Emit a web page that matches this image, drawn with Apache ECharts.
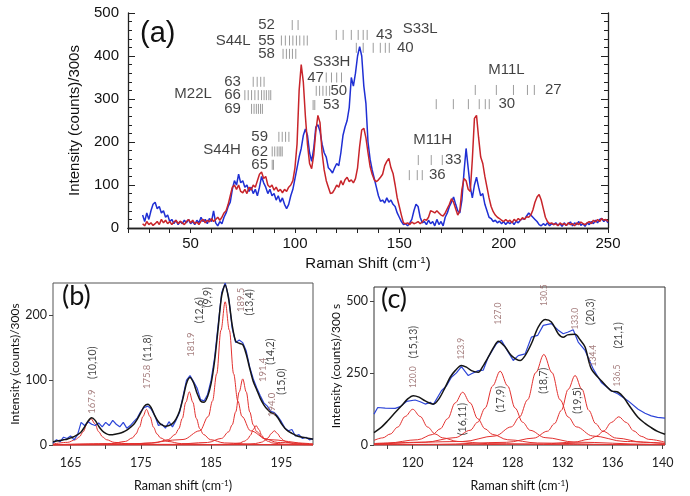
<!DOCTYPE html>
<html>
<head>
<meta charset="utf-8">
<script src="https://cdn.jsdelivr.net/npm/echarts@6/dist/echarts.min.js"></script>
<style>html,body{margin:0;padding:0;background:#fff}#chart{width:690px;height:496px}</style>
</head>
<body>
<div id="chart"></div>
<script>
const FA = "'Liberation Sans', Arial, sans-serif";
const FB = "Lato, 'Open Sans', sans-serif";

// ---- panel (a): spectra, 1 cm-1 steps from 27 to 250
const shiftA = [];
for (let x = 27; x <= 250; x++) shiftA.push(x);
const blueA = [
  30, 15, 35, 20, 40, 55, 60, 45, 50, 35,
  40, 25, 30, 15, 20, 10, 18, 8, 15, 10,
  18, 12, 20, 10, 15, 8, 18, 12, 25, 15,
  20, 10, 22, 15, 40, 12, 5, 15, 10, 25,
  35, 50, 60, 90, 110, 100, 125, 105, 110, 95,
  100, 85, 95, 80, 90, 75, 95, 120, 105, 95,
  80, 90, 75, 80, 65, 75, 60, 70, 55, 45,
  55, 75, 90, 115, 140, 165, 185, 215, 230, 215,
  175, 155, 185, 235, 240, 225, 195, 175, 165, 140,
  135, 128, 140, 150, 145, 175, 215, 235, 250, 280,
  350, 330, 360, 400, 422, 400, 330, 290, 200, 160,
  135, 115, 95, 75, 62, 65, 58, 70, 60, 65,
  55, 50, 35, 25, 15, 8, 10, 5, 12, 20,
  40, 55, 50, 25, 12, 15, 8, 18, 10, 15,
  5, 20, 8, 15, 5, 25, 35, 50, 60, 72,
  55, 40, 35, 65, 130, 185, 140, 95, 70, 100,
  118, 95, 75, 80, 55, 40, 25, 22, 15, 18,
  12, 16, 10, 15, 8, 14, 10, 15, 8, 16,
  12, 18, 22, 20, 28, 35, 30, 25, 20, 15,
  8, 5, 10, 6, 12, 5, 10, 8, 12, 6,
  10, 4, 12, 6, 10, 14, 5, 12, 8, 15,
  6, 10, 4, 12, 8, 15, 10, 18, 12, 20,
  22, 15, 20, 12
];
const redA = [
  10, 5, 15, 8, 12, 6, 10, 15, 8, 20,
  12, 18, 10, 15, 8, 14, 18, 10, 16, 12,
  8, 15, 20, 12, 18, 10, 14, 8, 16, 20,
  12, 18, 14, 22, 15, 20, 25, 18, 25, 35,
  40, 55, 75, 95, 100, 90, 100, 85, 82, 90,
  80, 95, 88, 100, 95, 110, 125, 130, 115, 120,
  100, 95, 100, 88, 95, 85, 90, 82, 90, 85,
  95, 100, 110, 140, 195, 320, 380, 340, 260, 195,
  150, 138, 170, 225, 262, 245, 175, 135, 110, 95,
  80, 82, 90, 100, 95, 110, 100, 112, 118, 108,
  112, 105, 115, 140, 190, 228, 232, 210, 175, 143,
  125, 112, 108, 112, 118, 125, 145, 155, 162, 140,
  127, 100, 70, 50, 30, 12, 10, 12, 8, 14,
  10, 12, 15, 10, 14, 20, 18, 25, 40, 38,
  35, 40, 35, 30, 28, 35, 45, 55, 68, 60,
  45, 30, 40, 90, 115, 110, 90, 85, 160, 255,
  262, 210, 165, 150, 120, 95, 70, 50, 38, 30,
  25, 22, 18, 15, 20, 15, 18, 12, 20, 16,
  22, 18, 24, 20, 26, 25, 30, 42, 60, 72,
  78, 65, 45, 25, 15, 10, 12, 8, 10, 5,
  12, 8, 10, 6, 12, 8, 10, 5, 12, 8,
  14, 10, 8, 12, 15, 10, 18, 14, 20, 15,
  22, 18, 20, 15
];
// gray chirality marks: [row intensity, shifts]
const markRowsA = [
  [472, [98.7, 101.5]],
  [436, [93.5, 95.4, 97.4, 99, 100.7, 102.3, 104.3, 105.9]],
  [405, [94.3, 95.9, 97.4, 98.8, 100.4]],
  [340, [80, 81.9, 83.6, 85.2]],
  [309, [76, 77.6, 79.2, 80.8, 82.4, 84, 85.2, 86.3, 87.5, 88.4]],
  [277, [79.2, 80.4, 81.5, 82.5, 83.5, 84.4]],
  [212, [92.3, 93.9, 95.5, 97.1]],
  [178, [89.1, 90.3, 91.5, 92.4, 93.2, 93.9]],
  [147, [89.1, 89.7]],
  [350, [115, 117.5, 120, 122.3]],
  [319, [110.2, 111.8, 113.4, 115, 116.6]],
  [286, [108.7, 109.5]],
  [449, [119.8, 123.1, 127, 130.3, 132.7, 134.6]],
  [419, [129.4, 132.7, 137.5, 140.9, 143.3, 145.2]],
  [321, [186.4, 196.5, 204.7, 211.4, 214.7]],
  [288, [167.7, 175.9, 183.1, 188.3, 191.2, 193.1]],
  [158, [159.1, 165.3, 170.6]],
  [123, [154.8, 158.6, 161]]
];
const labelsA = [
  ['52', 86.4, 472], ['55', 86.4, 436], ['58', 86.4, 405], ['S44L', 70.4, 436],
  ['63', 70.1, 340], ['66', 70.1, 309], ['69', 70.1, 277], ['M22L', 51.2, 312],
  ['59', 83.1, 212], ['62', 83.1, 178], ['65', 83.1, 147], ['S44H', 65.1, 181],
  ['S33H', 117.6, 386], ['47', 109.9, 350], ['50', 121, 319], ['53', 117.4, 286],
  ['43', 142.8, 449], ['40', 152.9, 419], ['S33L', 160, 463],
  ['M11L', 201.3, 367], ['27', 223.8, 321], ['30', 201.5, 288],
  ['M11H', 166, 205], ['33', 175.9, 158], ['36', 168.2, 123]
];

// ---- panel (b): 0.5 cm-1 steps from 162.5 to 199.5
const shiftB = [];
for (let i = 0; i <= 74; i++) shiftB.push(162.5 + i * 0.5);
const blueB = [
  3, 8, 5, 12, 10, 14, 8, 16, 35, 30,
  36, 32, 30, 34, 28, 35, 30, 38, 32, 28,
  35, 26, 30, 36, 42, 52, 58, 60, 55, 45,
  30, 32, 26, 36, 28, 38, 50, 75, 100, 107,
  98, 88, 70, 68, 78, 100, 135, 185, 235, 250,
  228, 180, 158, 162, 158, 145, 120, 102, 88, 76,
  65, 60, 52, 50, 44, 36, 26, 22, 24, 14,
  16, 10, 12, 8, 10
];
const fitB = [
  5, 6, 7, 8, 9, 11, 13, 16, 20, 28,
  37, 42, 38, 29, 22, 18, 16, 16, 17, 18,
  20, 23, 27, 32, 40, 50, 60, 63, 57, 45,
  36, 31, 29, 30, 33, 40, 52, 72, 95, 104,
  96, 80, 68, 66, 75, 95, 130, 180, 230, 247,
  225, 185, 160, 157, 155, 140, 118, 98, 85, 72,
  62, 55, 50, 48, 42, 33, 26, 21, 18, 15,
  13, 12, 11, 10, 9
];
const peaksB = [
  [[162.5,1.6],[164.6,4.1],[165.7,8.2],[166.25,12.6],[166.8,20.5],[167.35,33],[167.9,41],[168.45,33],[169,20.5],[169.55,12.6],[170.1,8.2],[171.2,4.1],[173.4,1.6],[178.9,0.4],[199.5,0.1]],
  [[162.5,0.3],[170.8,2.1],[172.8,5.5],[173.8,11],[174.3,17],[174.8,27.5],[175.3,44],[175.8,55],[176.3,44],[176.8,27.5],[177.3,17],[177.8,11],[178.8,5.5],[180.8,2.1],[185.8,0.5],[199.5,0.1]],
  [[162.5,0.2],[171.9,0.8],[176.9,3.2],[178.9,8.2],[179.9,16.4],[180.4,25],[180.9,41],[181.4,66],[181.9,82],[182.4,66],[182.9,41],[183.4,25],[183.9,16.4],[184.9,8.2],[186.9,3.2],[191.9,0.8],[199.5,0.3]],
  [[162.5,0.5],[175,2.2],[181,8.5],[183.4,22],[184.6,44],[185.2,68],[185.8,110],[186.4,177],[187,221],[187.6,177],[188.2,110],[188.8,68],[189.4,44],[190.6,22],[193,8.5],[199,2.2],[199.5,2.1]],
  [[162.5,0.1],[179.5,1],[184.5,3.9],[186.5,10.2],[187.5,20.4],[188,31],[188.5,51],[189,82],[189.5,102],[190,82],[190.5,51],[191,31],[191.5,20.4],[192.5,10.2],[194.5,3.9],[199.5,1]],
  [[162.5,0.1],[183.4,0.3],[187.4,1.2],[189,3],[189.8,6],[190.2,9.2],[190.6,15],[191,24],[191.4,30],[191.8,24],[192.2,15],[192.6,9.2],[193,6],[193.8,3],[195.4,1.2],[199.5,0.3]],
  [[162.5,0.1],[185,0.2],[189.5,0.85],[191.3,2.2],[192.2,4.4],[192.65,6.8],[193.1,11],[193.55,17.6],[194,22],[194.45,17.6],[194.9,11],[195.35,6.8],[195.8,4.4],[196.7,2.2],[198.5,0.85],[199.5,0.6]]
];
const peakTextB = [['167.9', 168.1, 67], ['175.8', 175.8, 105], ['181.9', 182.1, 155],
  ['189.5', 189.3, 224], ['191.4', 192.4, 116], ['194.0', 193.7, 62]];
const chiralTextB = [['(10,10)', 168.1, 127], ['(11,8)', 175.9, 150], ['(12,6)', 183.3, 208],
  ['(9,9)', 184.5, 228], ['(13,4)', 190.5, 220], ['(14,2)', 193.4, 144], ['(15,0)', 195.1, 98]];

// ---- panel (c)
const blueC = [[116.9,107],[117.2,130],[117.8,128],[118.6,127],[119.0,133],[119.5,151],[120.2,156],[120.6,150],[121,142],[121.4,148],[121.65,140],[122.3,188],[122.7,205],[123.1,235],[123.5,250],[123.9,272],[124.45,241],[124.7,247],[125.25,258],[125.65,260],[126.05,305],[126.7,351],[127.1,363],[127.65,322],[128.05,293],[128.45,310],[129,316],[129.5,374],[130,380],[130.45,415],[131.1,421],[131.65,398],[132.05,386],[132.45,392],[132.85,400],[133.25,357],[133.8,328],[134.45,264],[135.1,217],[135.9,188],[136.45,177],[137.25,153],[138.05,124],[138.6,110],[139.1,101],[139.6,96],[140.2,93]];
const fitC = [[116.9,43],[117.5,62],[118,84],[118.5,108],[119.1,136],[119.6,160],[120.05,171],[120.5,166],[121,153],[121.65,142],[122.1,160],[122.6,200],[123,235],[123.4,258],[123.9,276],[124.3,270],[124.7,258],[125.25,252],[125.6,272],[126.05,305],[126.5,340],[126.85,360],[127.4,340],[127.9,310],[128.6,293],[129,310],[129.5,351],[130.05,409],[130.6,435],[131.1,427],[131.65,386],[132.05,374],[132.4,382],[133,384],[133.4,365],[133.8,340],[134.3,264],[135.1,223],[135.9,188],[136.45,183],[136.9,165],[137.25,142],[138.05,95],[138.6,75],[139.1,60],[139.6,47],[140.2,37]];
const peaksC = [
  [[116.9,16],[117.6,24.8],[118.2,38],[118.8,62],[119.4,99],[120,124],[120.6,99],[121.2,62],[121.8,38],[122.4,24.8],[123.6,12.4],[126,4.8],[132,1.2],[140.2,0.5]],
  [[116.9,5.1],[118,7],[120.4,18.3],[121.6,36.6],[122.2,56],[122.8,91.5],[123.4,146],[124,183],[124.6,146],[125.2,91.5],[125.8,56],[126.4,36.6],[127.6,18.3],[130,7],[136,1.8],[140.2,1]],
  [[116.9,3.6],[121,9.9],[123.4,25.6],[124.6,51],[125.2,79],[125.8,128],[126.4,205],[127,256],[127.6,205],[128.2,128],[128.8,79],[129.4,51],[130.6,25.6],[133,9.9],[139,2.5],[140.2,2.1]],
  [[116.9,2.9],[124,12.1],[126.6,31.4],[127.9,63],[128.55,97],[129.2,157],[129.85,251],[130.5,314],[131.15,251],[131.8,157],[132.45,97],[133.1,63],[134.4,31.4],[137,12.1],[140.2,5.5]],
  [[116.9,1.1],[122,2.4],[127.5,9.3],[129.7,24],[130.8,48],[131.35,74],[131.9,120],[132.45,193],[133,241],[133.55,193],[134.1,120],[134.65,74],[135.2,48],[136.3,24],[138.5,9.3],[140.2,5.5]],
  [[116.9,0.4],[124.5,1],[130.5,3.8],[132.9,9.8],[134.1,19.6],[134.7,30],[135.3,49],[135.9,78],[136.5,98],[137.1,78],[137.7,49],[138.3,30],[138.9,19.6],[140.2,9.6]]
];
const peakTextC = [['120.0', 120.05, 235], ['123.9', 123.9, 334], ['127.0', 126.85, 456], ['130.5', 130.5, 520],
  ['133.0', 133.05, 438], ['134.4', 134.45, 310], ['136.5', 136.4, 241]];
const chiralTextC = [['(15,13)', 120.1, 357], ['(16,11)', 124, 90], ['(17,9)', 127, 159], ['(18,7)', 130.5, 223],
  ['(19,5)', 133.2, 154], ['(20,3)', 134.25, 462], ['(21,1)', 136.45, 380]];

const ticksA = [];
for (let x = 20; x <= 250; x += 10) ticksA.push(x);

const chart = echarts.init(document.getElementById('chart'));

const pairs = (xs, ys) => xs.map((x, i) => [x, ys[i]]);
const markData = [];
markRowsA.forEach(([y, xs]) => xs.forEach(x => markData.push([x, y])));

// axis index: 0 = panel a, 2 = panel b, 3 = panel c
const textSeries = (items, ai, style) => ({
  type: 'scatter', xAxisIndex: ai, yAxisIndex: ai, silent: true, symbolSize: 1,
  itemStyle: { color: 'rgba(0,0,0,0)' }, z: 6,
  data: items.map(t => ({ name: t[0], value: [t[1], t[2]] })),
  label: Object.assign({ show: true, position: 'inside', formatter: '{b}' }, style)
});
const lineS = (data, ai, color, width, z) => ({
  type: 'line', xAxisIndex: ai, yAxisIndex: ai, data, symbol: 'none', silent: true,
  lineStyle: { color, width }, z: z || 2
});
const smoothS = (data, ai) => Object.assign(lineS(data, ai, '#e2312f', 1, 2), { smooth: 0.35, smoothMonotone: 'x' });

const axisDark = { color: '#222', width: 1.3 };
const nameRich = (size, font) => ({ fontFamily: font, fontSize: size, color: '#111',
  rich: { sup: { fontFamily: font, fontSize: size * 0.65, color: '#111', padding: [0, 0, size * 0.55, 0] } } });

const series = [
  {
    type: 'custom', xAxisIndex: 0, yAxisIndex: 0, data: markData, silent: true, z: 3,
    renderItem: (params, api) => {
      const p = api.coord([api.value(0), api.value(1)]);
      return { type: 'line', shape: { x1: p[0], y1: p[1] - 5, x2: p[0], y2: p[1] + 5 },
        style: { stroke: '#9c9c9c', lineWidth: 1 } };
    }
  },
  lineS(pairs(shiftA, blueA), 0, '#1f2fd4', 1.5),
  lineS(pairs(shiftA, redA), 0, '#c8242a', 1.5),
  textSeries(labelsA, 0, { fontFamily: FA, fontSize: 15, color: '#111' })
];
peaksB.forEach(p => series.push(smoothS(p, 2)));
series.push(lineS(pairs(shiftB, blueB), 2, '#2d45d8', 1.2, 3));
series.push(Object.assign(lineS(pairs(shiftB, fitB), 2, '#151515', 1.5, 4), { smooth: 0.3 }));
series.push(textSeries(peakTextB, 2, { fontFamily: FB, fontSize: 9.5, color: '#8e5e5e', rotate: 90 }));
series.push(textSeries(chiralTextB, 2, { fontFamily: FB, fontSize: 10.5, color: '#111', rotate: 90 }));
peaksC.forEach(p => series.push(smoothS(p, 3)));
series.push(lineS(blueC, 3, '#2d45d8', 1.2, 3));
series.push(Object.assign(lineS(fitC, 3, '#151515', 1.5, 4), { smooth: 0.3 }));
series.push(textSeries(peakTextC, 3, { fontFamily: FB, fontSize: 8.5, color: '#8e5e5e', rotate: 90 }));
series.push(textSeries(chiralTextC, 3, { fontFamily: FB, fontSize: 10.5, color: '#111', rotate: 90 }));

const bcX = (gi, min, max, labels, ticks, name) => ({
  gridIndex: gi, type: 'value', min, max,
  axisLine: { show: false },
  axisTick: { customValues: ticks, length: 4, lineStyle: { color: '#444' } },
  axisLabel: { customValues: labels, fontFamily: FB, fontSize: 12.5, color: '#222', margin: 11 },
  splitLine: { show: false },
  name, nameLocation: 'middle', nameGap: 34, nameTextStyle: nameRich(12.5, FB)
});
const bcY = (gi, max, interval, gap, name) => ({
  gridIndex: gi, type: 'value', min: 0, max, interval,
  axisLine: { show: false },
  axisTick: { show: true, length: 4, lineStyle: { color: '#444' } },
  axisLabel: { fontFamily: FB, fontSize: 12.5, color: '#222', margin: 6, showMaxLabel: false },
  splitLine: { show: false },
  name, nameLocation: 'middle', nameGap: gap, nameTextStyle: { fontFamily: FB, fontSize: 12, color: '#111' }
});

chart.setOption({
  animation: false,
  backgroundColor: '#fff',
  grid: [
    { left: 128, top: 13, width: 480, height: 215 },
    { left: 53, top: 283, width: 260, height: 162, show: true, borderColor: '#555', borderWidth: 1 },
    { left: 374, top: 287, width: 291, height: 158, show: true, borderColor: '#333', borderWidth: 1 }
  ],
  xAxis: [
    { gridIndex: 0, type: 'value', min: 20, max: 250, position: 'bottom',
      axisLine: { onZero: false, lineStyle: axisDark },
      axisTick: { customValues: ticksA, length: 5, lineStyle: { color: '#222' } },
      axisLabel: { customValues: [50, 100, 150, 200, 250], fontFamily: FA, fontSize: 15, color: '#111', margin: 8 },
      splitLine: { show: false },
      name: 'Raman Shift (cm{sup|-1})', nameLocation: 'middle', nameGap: 27, nameTextStyle: nameRich(15, FA) },
    { gridIndex: 0, type: 'value', min: 20, max: 250, position: 'top',
      axisLine: { lineStyle: axisDark },
      axisTick: { inside: true, customValues: ticksA, length: 5, lineStyle: { color: '#222' } },
      axisLabel: { show: false }, splitLine: { show: false } },
    bcX(1, 162.5, 199.5, [165, 175, 185, 195], [165, 170, 175, 180, 185, 190, 195], 'Raman shift (cm{sup|-1})'),
    bcX(2, 116.9, 140.2, [120, 124, 128, 132, 136, 140], [118, 120, 122, 124, 126, 128, 130, 132, 134, 136, 138, 140], 'Raman shift (cm{sup|-1})')
  ],
  yAxis: [
    { gridIndex: 0, type: 'value', min: 0, max: 500, interval: 100,
      axisLine: { show: true, lineStyle: axisDark },
      axisTick: { inside: true, length: 7, lineStyle: { color: '#222' } },
      minorTick: { show: true, splitNumber: 5, length: 4, lineStyle: { color: '#222' } },
      axisLabel: { fontFamily: FA, fontSize: 15, color: '#111', margin: 9 },
      splitLine: { show: false },
      name: 'Intensity (counts)/300s', nameLocation: 'middle', nameGap: 46,
      nameTextStyle: { fontFamily: FA, fontSize: 15, color: '#111' } },
    { gridIndex: 0, type: 'value', min: 0, max: 500, interval: 100, position: 'right',
      axisLine: { show: true, lineStyle: axisDark },
      axisTick: { inside: true, length: 7, lineStyle: { color: '#222' } },
      minorTick: { show: true, splitNumber: 5, length: 4, lineStyle: { color: '#222' } },
      axisLabel: { show: false }, splitLine: { show: false } },
    bcY(1, 250, 100, 30, 'Intensity (counts)/300s'),
    bcY(2, 548, 250, 20, 'Intensity (counts)/300 s')
  ],
  graphic: [
    { type: 'text', left: 140, top: 19, style: { text: '(a)', fontFamily: FA, fontSize: 29, fill: '#111' } },
    { type: 'text', left: 62, top: 283, style: { text: '(b)', fontFamily: FB, fontSize: 27, fill: '#111' } },
    { type: 'text', left: 381, top: 286, style: { text: '(c)', fontFamily: FB, fontSize: 27, fill: '#111' } }
  ],
  series
});
</script>
</body>
</html>
